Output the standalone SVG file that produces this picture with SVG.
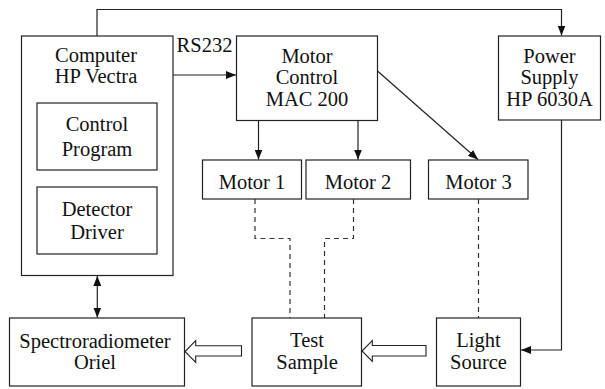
<svg xmlns="http://www.w3.org/2000/svg" width="605" height="389" viewBox="0 0 605 389">
  <style>
    .box { fill: #fff; stroke: #222; stroke-width: 1.2; }
    .ln { fill: none; stroke: #222; stroke-width: 1.2; }
    .dash { fill: none; stroke: #333; stroke-width: 1.2; stroke-dasharray: 5 4; }
    .hollow { fill: #fff; stroke: #222; stroke-width: 1.1; stroke-linejoin: miter; }
    .t { font-family: 'Liberation Serif', 'DejaVu Serif', serif; font-size: 20.5px; fill: #111; text-anchor: middle; }
  </style>
  <defs>
    <marker id="ah" viewBox="0 0 10 8" refX="10" refY="4" markerWidth="10" markerHeight="8" markerUnits="userSpaceOnUse" orient="auto-start-reverse">
      <path d="M0,0 L10,4 L0,8 Z" fill="#111"/>
    </marker>
  </defs>

  <g id="computer">
    <rect class="box" x="21.5" y="36" width="151.5" height="239.5"/>
    <text class="t" x="96" y="62">Computer</text>
    <text class="t" x="96" y="82.5">HP Vectra</text>
  </g>
  <g id="control-program">
    <rect class="box" x="37" y="103" width="120" height="67"/>
    <text class="t" x="97" y="131">Control</text>
    <text class="t" x="97" y="155.5">Program</text>
  </g>
  <g id="detector-driver">
    <rect class="box" x="37" y="187" width="120" height="67"/>
    <text class="t" x="97" y="215.5">Detector</text>
    <text class="t" x="97" y="239">Driver</text>
  </g>
  <g id="motor-control">
    <rect class="box" x="236.5" y="36" width="141" height="84.5"/>
    <text class="t" x="307" y="62.5">Motor</text>
    <text class="t" x="307" y="84">Control</text>
    <text class="t" x="307" y="106">MAC 200</text>
  </g>
  <g id="power-supply">
    <rect class="box" x="498.5" y="36" width="102" height="84"/>
    <text class="t" x="549.5" y="62.5">Power</text>
    <text class="t" x="549.5" y="84">Supply</text>
    <text class="t" x="549.5" y="106">HP 6030A</text>
  </g>
  <g id="motor1">
    <rect class="box" x="202.5" y="160" width="99" height="39"/>
    <text class="t" x="252" y="189">Motor 1</text>
  </g>
  <g id="motor2">
    <rect class="box" x="306" y="160" width="104.5" height="39"/>
    <text class="t" x="358" y="189">Motor 2</text>
  </g>
  <g id="motor3">
    <rect class="box" x="428.5" y="160" width="99.5" height="39"/>
    <text class="t" x="478.5" y="189">Motor 3</text>
  </g>
  <g id="spectroradiometer">
    <rect class="box" x="9.5" y="318" width="175" height="68"/>
    <text class="t" x="95" y="347.5">Spectroradiometer</text>
    <text class="t" x="95" y="369">Oriel</text>
  </g>
  <g id="test-sample">
    <rect class="box" x="252" y="318" width="109.5" height="68"/>
    <text class="t" x="307" y="347">Test</text>
    <text class="t" x="307" y="369">Sample</text>
  </g>
  <g id="light-source">
    <rect class="box" x="436.5" y="318" width="84" height="68"/>
    <text class="t" x="478.5" y="347">Light</text>
    <text class="t" x="478.5" y="369">Source</text>
  </g>

  <g id="connectors">
    <text class="t" x="204.5" y="51.5">RS232</text>
    <path class="ln" d="M173,75 H236" marker-end="url(#ah)"/>
    <path class="ln" d="M97,36 V9.5 H561.5 V35.5" marker-end="url(#ah)"/>
    <path class="ln" d="M258.5,120.5 V159.5" marker-end="url(#ah)"/>
    <path class="ln" d="M358,120.5 V159.5" marker-end="url(#ah)"/>
    <path class="ln" d="M377.5,71 L478,159.5" marker-end="url(#ah)"/>
    <path class="ln" d="M561.5,120 V350 H521" marker-end="url(#ah)"/>
    <path class="ln" d="M97.3,276 V317.5" marker-start="url(#ah)" marker-end="url(#ah)"/>
    <path class="dash" d="M255,199 V238.5 H290 V318"/>
    <path class="dash" d="M353.5,199 V238.5 H324.5 V318"/>
    <path class="dash" d="M478.5,199 V318"/>
    <path class="hollow" d="M241.5,345.7 H195.7 V340.7 L185,351.5 L195.7,362.3 V356 H241.5 Z"/>
    <path class="hollow" d="M426,345.5 H372.3 V340.5 L362,351 L372.3,361.5 V356 H426 Z"/>
  </g>
</svg>
